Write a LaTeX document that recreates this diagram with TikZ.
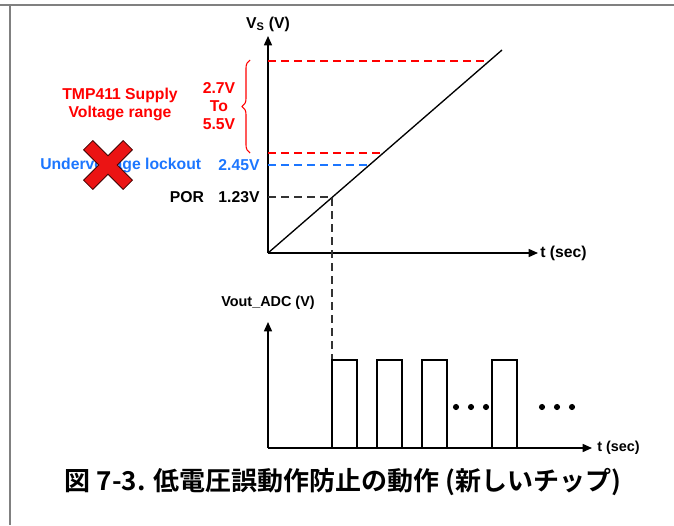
\documentclass[tikz,border=0pt]{standalone}
\usepackage{fontspec}
\setmainfont{Liberation Sans}
\newfontfamily\cjk{Noto Sans CJK JP}[BoldFont={* Bold}]
\usetikzlibrary{arrows.meta,decorations.pathreplacing}
\definecolor{framegray}{RGB}{128,128,128}
\definecolor{uvblue}{RGB}{28,118,255}
\definecolor{xred}{RGB}{235,20,20}
\begin{document}
\begin{tikzpicture}[x=0.75pt,y=-0.75pt,
  lbl/.style={font=\fontsize{11.8}{13.5}\selectfont\bfseries, inner sep=0pt},
  lbls/.style={font=\fontsize{10.8}{12}\selectfont\bfseries, inner sep=0pt},
  axis/.style={line width=1.1pt, -{Triangle[length=7pt,width=6pt]}},
  guide/.style={line width=0.8pt, dash pattern=on 6pt off 3.75pt},
  pulse/.style={line width=1pt}]
\useasboundingbox (0,0) rectangle (674,525);
% frame
\draw[framegray, line width=2pt] (0,5) -- (674,5);
\draw[framegray, line width=2pt] (10,4) -- (10,525);

% ---------- upper plot ----------
\coordinate (o1) at (268,253);
\coordinate (ytop) at (268,36);
\coordinate (xend) at (538,253);
\coordinate (rampend) at (502,50);
\draw[axis] (o1) -- (ytop);
\draw[axis] (o1) -- (xend);
\node[lbl] (vs) at (268,24) {V\textsubscript{S} (V)};
\node[lbl, anchor=west] (t1) at (540,253) {t (sec)};
\draw[line width=1pt] (o1) -- (rampend);

\coordinate (a55) at (268,61);
\coordinate (b55) at (489,61);
\coordinate (a27) at (268,153);
\coordinate (b27) at (383,153);
\coordinate (a245) at (268,165);
\coordinate (b245) at (369,165);
\coordinate (a123) at (268,197);
\coordinate (b123) at (332,197);
\coordinate (p0) at (332,360);
\draw[guide, red] (a55) -- (b55);
\draw[guide, red] (a27) -- (b27);
\draw[guide, uvblue] (a245) -- (b245);
\draw[guide, black!80] (a123) -- (b123) -- (p0);

% brace
\coordinate (br1) at (250,153);
\coordinate (br2) at (250,60);
\draw[red, line width=0.8pt, decorate, decoration={brace, amplitude=6pt}] (br1) -- (br2);

\node[lbl, red, align=center] (range) at (219,106) {2.7V\\To\\5.5V};
\node[lbl, red, align=center] (tmp) at (120,104) {TMP411 Supply\\Voltage range};
\node[lbl, uvblue, anchor=west] (uvl) at (40,165) {Undervoltage lockout};
\node[lbl, uvblue] (v245) at (239,165) {2.45V};
\node[lbl] (por) at (187,197) {POR};
\node[lbl] (v123) at (239,197) {1.23V};

% red cross
\begin{scope}[shift={(108,165)}, rotate=45]
\fill[xred, draw=black!75!red, line width=0.6pt]
  (28,6.5) -- (6.5,6.5) -- (6.5,28) -- (-6.5,28) -- (-6.5,6.5) -- (-28,6.5) --
  (-28,-6.5) -- (-6.5,-6.5) -- (-6.5,-28) -- (6.5,-28) -- (6.5,-6.5) -- (28,-6.5) -- cycle;
\end{scope}

% ---------- lower plot ----------
\coordinate (o2) at (268,448);
\coordinate (ytop2) at (268,322);
\coordinate (xend2) at (592,448);
\draw[axis] (o2) -- (ytop2);
\draw[axis] (o2) -- (xend2);
\node[lbls] (vout) at (268,303) {Vout\_ADC (V)};
\node[lbls, anchor=west] (t2) at (597,448) {t (sec)};

\foreach \xa/\xb in {332/357, 377/402, 422/447, 492/517}
  \draw[pulse] (\xa,448) -- (\xa,360) -- (\xb,360) -- (\xb,448);

\foreach \xd in {456,471,486,542,557,572}
  \fill (\xd,407) circle (2.3pt);

% caption
\node[inner sep=0pt, font=\cjk\bfseries\fontsize{19.5}{22}\selectfont] (cap) at (343,482) {図 7-3. 低電圧誤動作防止の動作 (新しいチップ)};
\end{tikzpicture}
\end{document}
